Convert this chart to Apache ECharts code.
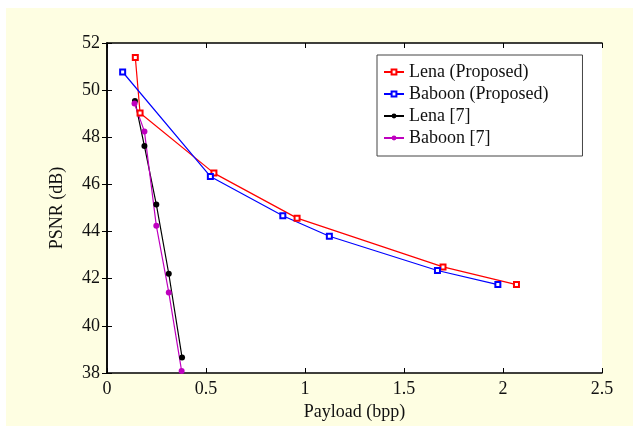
<!DOCTYPE html>
<html>
<head>
<meta charset="utf-8">
<script src="https://cdn.jsdelivr.net/npm/echarts@6/dist/echarts.min.js"></script>
<style>
  html, body { margin: 0; padding: 0; background: #ffffff; }
  #bg { position: absolute; left: 6px; top: 8px; right: 0; bottom: 0; background: #FEFEE2; }
  #chart { position: absolute; left: 0; top: 0; width: 633px; height: 426px; }
</style>
</head>
<body>
<div id="bg"></div>
<div id="chart"></div>
<script>
// Payload (bpp) vs PSNR (dB) for each method / image
const lenaProposedX   = [0.143, 0.167, 0.540, 0.960, 1.697, 2.068];
const lenaProposedY   = [51.39, 49.03, 46.48, 44.57, 42.50, 41.75];
const baboonProposedX = [0.079, 0.522, 0.888, 1.123, 1.669, 1.974];
const baboonProposedY = [50.77, 46.34, 44.67, 43.80, 42.35, 41.75];
const lenaRef7X       = [0.141, 0.189, 0.249, 0.312, 0.379];
const lenaRef7Y       = [49.54, 47.63, 45.15, 42.21, 38.66];
const baboonRef7X     = [0.139, 0.189, 0.249, 0.312, 0.377];
const baboonRef7Y     = [49.43, 48.25, 44.25, 41.42, 38.08];

const seriesNames = ['Lena (Proposed)', 'Baboon (Proposed)', 'Lena [7]', 'Baboon [7]'];

const pairs = (xs, ys) => xs.map((x, i) => [x, ys[i]]);

const font = 'Liberation Serif';
const chart = echarts.init(document.getElementById('chart'), null, { renderer: 'canvas' });

const hiddenAxisCommon = {
  axisLine: { show: true, lineStyle: { color: '#000', width: 1.5 } },
  axisTick: { show: true, inside: true, length: 5, lineStyle: { color: '#000', width: 1 } },
  axisLabel: { show: false },
  splitLine: { show: false }
};

function lineSeries(name, data, color, symbol, size) {
  return {
    name, type: 'line', data,
    xAxisIndex: 0, yAxisIndex: 0,
    symbol, symbolSize: size,
    showAllSymbol: true,
    lineStyle: { color, width: 1.2 },
    itemStyle: { color },
    emphasis: { disabled: true },
    animation: false
  };
}

chart.setOption({
  backgroundColor: 'transparent',
  animation: false,
  textStyle: { fontFamily: font },
  grid: { left: 107, right: 31, top: 43, bottom: 53, show: true, backgroundColor: '#fff', borderWidth: 0 },
  legend: {
    data: seriesNames,
    orient: 'vertical',
    left: 377, top: 55,
    backgroundColor: '#fff',
    borderColor: '#444', borderWidth: 1,
    padding: [8, 34, 9, 6],
    itemGap: 4,
    itemWidth: 20, itemHeight: 6,
    textStyle: { fontFamily: font, fontSize: 18, color: '#111', lineHeight: 18 }
  },
  xAxis: [
    {
      type: 'value', min: 0, max: 2.5, interval: 0.5, position: 'bottom',
      name: 'Payload (bpp)', nameLocation: 'middle', nameGap: 30,
      nameTextStyle: { fontFamily: font, fontSize: 18, color: '#111' },
      axisLine: { show: true, lineStyle: { color: '#000', width: 1.5 } },
      axisTick: { show: true, inside: true, length: 5, lineStyle: { color: '#000' } },
      axisLabel: { fontFamily: font, fontSize: 18, color: '#111', margin: 7 },
      splitLine: { show: false }
    },
    Object.assign({ type: 'value', min: 0, max: 2.5, interval: 0.5, position: 'top' }, hiddenAxisCommon)
  ],
  yAxis: [
    {
      type: 'value', min: 38, max: 52, interval: 2, position: 'left',
      name: 'PSNR (dB)', nameLocation: 'middle', nameGap: 41, nameRotate: 90,
      nameTextStyle: { fontFamily: font, fontSize: 18, color: '#111' },
      axisLine: { show: true, lineStyle: { color: '#000', width: 1.5 } },
      axisTick: { show: true, inside: true, length: 5, lineStyle: { color: '#000' } },
      axisLabel: { fontFamily: font, fontSize: 18, color: '#111', margin: 7 },
      splitLine: { show: false }
    },
    Object.assign({ type: 'value', min: 38, max: 52, interval: 2, position: 'right' }, hiddenAxisCommon)
  ],
  series: [
    lineSeries(seriesNames[0], pairs(lenaProposedX, lenaProposedY), '#FF0000', 'emptyRect', 5),
    lineSeries(seriesNames[1], pairs(baboonProposedX, baboonProposedY), '#0000FF', 'emptyRect', 5),
    lineSeries(seriesNames[2], pairs(lenaRef7X, lenaRef7Y), '#000000', 'circle', 6),
    lineSeries(seriesNames[3], pairs(baboonRef7X, baboonRef7Y), '#BF00BF', 'circle', 6)
  ]
});
</script>
</body>
</html>
